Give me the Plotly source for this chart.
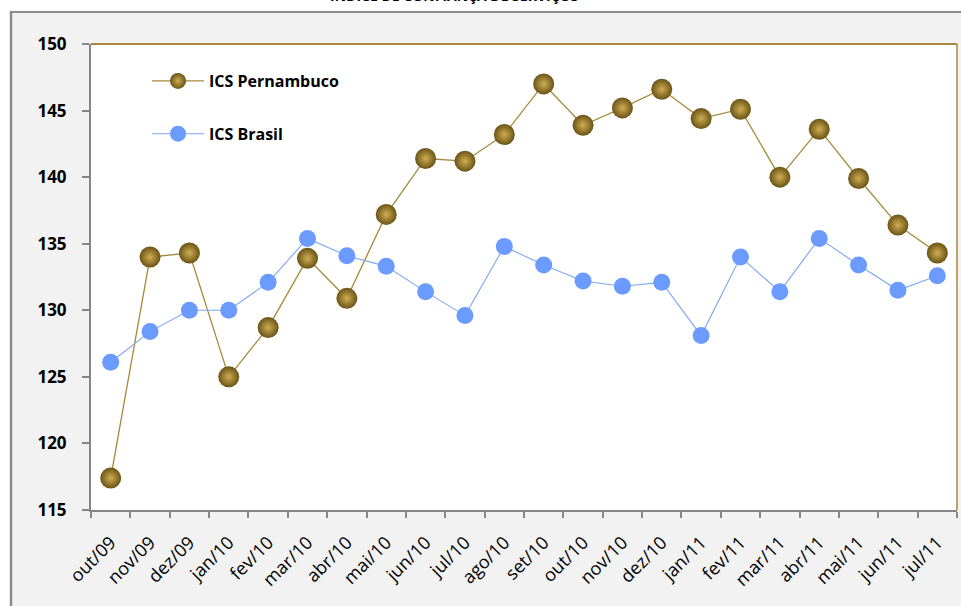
import plotly.graph_objects as go

months = ["out/09", "nov/09", "dez/09", "jan/10", "fev/10", "mar/10", "abr/10", "mai/10",
          "jun/10", "jul/10", "ago/10", "set/10", "out/10", "nov/10", "dez/10", "jan/11",
          "fev/11", "mar/11", "abr/11", "mai/11", "jun/11", "jul/11"]
ics_pernambuco = [117.4, 134.0, 134.3, 125.0, 128.7, 133.9, 130.9, 137.2, 141.4, 141.2, 143.2,
                  147.0, 143.9, 145.2, 146.6, 144.4, 145.1, 140.0, 143.6, 139.9, 136.4, 134.3]
ics_brasil = [126.1, 128.4, 130.0, 130.0, 132.1, 135.4, 134.1, 133.3, 131.4, 129.6, 134.8,
              133.4, 132.2, 131.8, 132.1, 128.1, 134.0, 131.4, 135.4, 133.4, 131.5, 132.6]
y_ticks = [115, 120, 125, 130, 135, 140, 145, 150]

W, H = 961, 606
L, R, T, B = 91, 4, 44, 96
pw, ph = W - L - R, H - T - B

def px_x(x):
    return (x - L) / pw

def px_y(y):
    return (H - B - y) / ph

fig = go.Figure()
fig.add_trace(go.Scatter(
    x=months, y=ics_pernambuco, name="ICS Pernambuco", mode="lines+markers",
    legendgroup="a",
    line=dict(color="#a58a3c", width=1.3),
    marker=dict(size=21, color="#6a5316", line=dict(width=0),
                gradient=dict(type="radial", color="#cfae52")),
))
fig.add_trace(go.Scatter(
    x=months, y=ics_brasil, name="ICS Brasil", mode="lines+markers",
    legendgroup="b",
    line=dict(color="#7ea6f4", width=1.1),
    marker=dict(size=17, color="#6b9bff", line=dict(width=0)),
))

shapes = [
    dict(type="rect", xref="paper", yref="paper", x0=px_x(-5), x1=px_x(10), y0=px_y(H + 5), y1=px_y(-5),
         fillcolor="white", line=dict(width=0), layer="below"),
    dict(type="rect", xref="paper", yref="paper", x0=px_x(-5), x1=px_x(W + 5), y0=px_y(11), y1=px_y(-5),
         fillcolor="white", line=dict(width=0), layer="below"),
    dict(type="line", xref="paper", yref="paper", x0=px_x(11), x1=px_x(11), y0=px_y(H + 5), y1=px_y(11),
         line=dict(color="#8c8c8c", width=2.5)),
    dict(type="line", xref="paper", yref="paper", x0=px_x(10), x1=px_x(W + 5), y0=px_y(12), y1=px_y(12),
         line=dict(color="#8c8c8c", width=2)),
    dict(type="line", xref="paper", yref="paper", x0=0, x1=1, y0=1, y1=1,
         line=dict(color="#a8873a", width=2)),
    dict(type="line", xref="paper", yref="paper", x0=1, x1=1, y0=0, y1=1,
         line=dict(color="#a8873a", width=1.5)),
]

fig.update_layout(
    width=W, height=H,
    margin=dict(l=L, r=R, t=T, b=B, autoexpand=False),
    paper_bgcolor="#f2f2f2",
    plot_bgcolor="white",
    font=dict(family="Open Sans, Liberation Sans, sans-serif", color="black"),
    showlegend=True,
    legend=dict(x=px_x(147), y=px_y(64), xanchor="left", yanchor="top",
                bgcolor="rgba(0,0,0,0)", font=dict(size=16, family="Open Sans", color="black", weight="bold"),
                tracegroupgap=29, itemwidth=52),
    shapes=shapes,
    annotations=[dict(text="<b>ÍNDICE DE CONFIANÇA DE SERVIÇOS</b>", xref="paper", yref="paper",
                      x=px_x(454), y=px_y(-4), xanchor="center", yanchor="middle",
                      showarrow=False, font=dict(size=14, color="black"))],
    xaxis=dict(
        type="category", categoryorder="array", categoryarray=months,
        range=[-0.5, len(months) - 0.5],
        tickson="boundaries", ticks="outside", ticklen=6, tickcolor="#868686", tickwidth=1.5,
        showline=True, linecolor="#868686", linewidth=2,
        showgrid=False, tickangle=-45, ticklabelstandoff=13,
        tickfont=dict(size=18, family="Open Sans", color="black"),
    ),
    yaxis=dict(
        range=[115, 150], tickvals=y_ticks, ticks="outside", ticklen=7,
        tickcolor="#868686", tickwidth=1.5,
        showline=True, linecolor="#868686", linewidth=2,
        showgrid=False, zeroline=False,
        tickfont=dict(size=17, family="Open Sans", color="black", weight="bold"),
        ticklabelstandoff=12,
    ),
)

fig.write_html("out.html", config={"displayModeBar": False},
               post_script="document.body.style.margin='0';document.body.style.overflow='hidden';")
